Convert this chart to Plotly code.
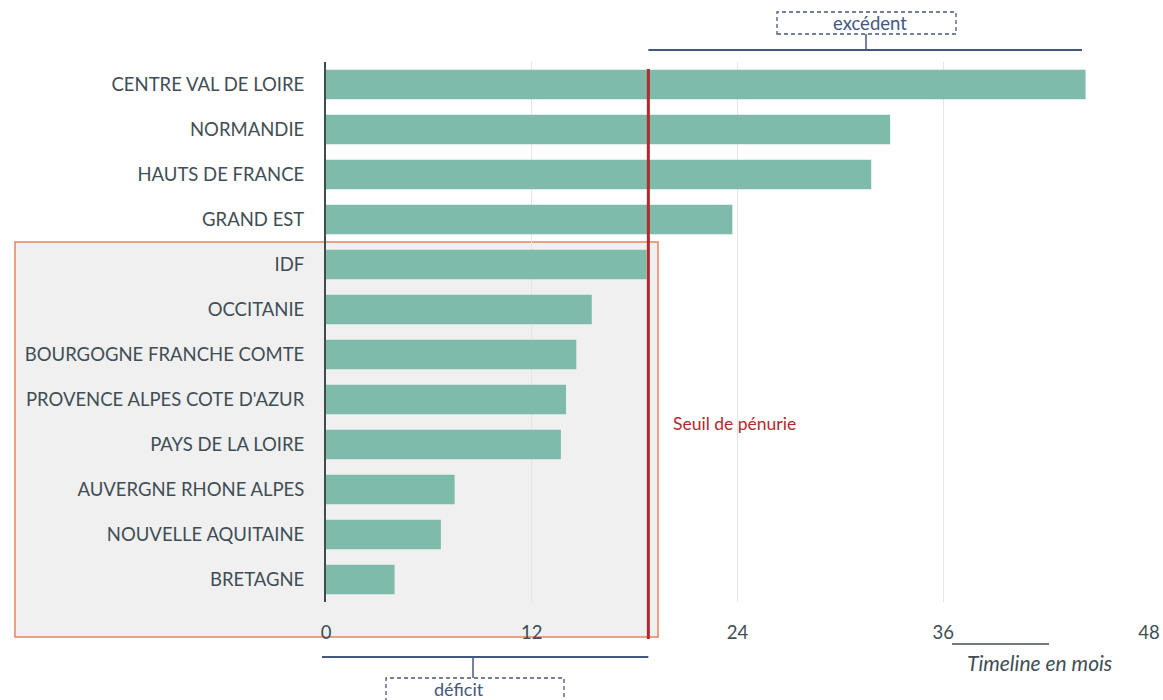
import plotly.graph_objects as go

regions = ["CENTRE VAL DE LOIRE", "NORMANDIE", "HAUTS DE FRANCE", "GRAND EST", "IDF",
           "OCCITANIE", "BOURGOGNE FRANCHE COMTE", "PROVENCE ALPES COTE D'AZUR",
           "PAYS DE LA LOIRE", "AUVERGNE RHONE ALPES", "NOUVELLE AQUITAINE", "BRETAGNE"]
months = [44.3, 32.9, 31.8, 23.7, 18.7, 15.5, 14.6, 14.0, 13.7, 7.5, 6.7, 4.0]
threshold = 18.8
x_ticks = [0, 12, 24, 36, 48]
x_max = 48

W, H = 1163, 700
L, R, T, B = 326, 14, 62, 98
pw, ph = W - L - R, H - T - B

def px(x):
    return (x - L) / pw

def py(y):
    return (H - B - y) / ph

def dx(v):
    return v / x_max

TXT = "#3F4E55"
NAVY = "#44587F"
RED = "#B3282D"
FONT = "Lato"

fig = go.Figure(go.Bar(
    x=months, y=regions, orientation="h",
    marker=dict(color="#7FBBAA", line=dict(width=0)),
    width=0.66, hoverinfo="x+y",
))

shapes = []
# deficit zone box
shapes.append(dict(type="rect", xref="paper", yref="paper",
                   x0=px(15), x1=px(658), y0=py(637), y1=py(242),
                   fillcolor="#F0F0F0", line=dict(color="#E8825F", width=1.5), layer="below"))
# threshold line
shapes.append(dict(type="line", xref="paper", yref="paper",
                   x0=dx(threshold), x1=dx(threshold), y0=py(639), y1=py(69),
                   line=dict(color=RED, width=3), layer="above"))
# excedent bracket
shapes.append(dict(type="line", xref="paper", yref="paper",
                   x0=dx(threshold), x1=px(1082), y0=py(50), y1=py(50),
                   line=dict(color=NAVY, width=2)))
shapes.append(dict(type="line", xref="paper", yref="paper",
                   x0=px(866), x1=px(866), y0=py(50), y1=py(34),
                   line=dict(color=NAVY, width=1.5)))
shapes.append(dict(type="rect", xref="paper", yref="paper",
                   x0=px(777), x1=px(956), y0=py(34), y1=py(12),
                   line=dict(color=NAVY, width=1.3, dash="4px,3px"), fillcolor="white"))
# deficit bracket
shapes.append(dict(type="line", xref="paper", yref="paper",
                   x0=px(322), x1=dx(threshold), y0=py(657), y1=py(657),
                   line=dict(color=NAVY, width=2)))
shapes.append(dict(type="line", xref="paper", yref="paper",
                   x0=px(473), x1=px(473), y0=py(657), y1=py(678),
                   line=dict(color=NAVY, width=1.5)))
shapes.append(dict(type="rect", xref="paper", yref="paper",
                   x0=px(386), x1=px(564), y0=py(708), y1=py(678),
                   line=dict(color=NAVY, width=1.3, dash="4px,3px"), fillcolor="white"))
# timeline line
shapes.append(dict(type="line", xref="paper", yref="paper",
                   x0=px(952), x1=px(1049), y0=py(644), y1=py(644),
                   line=dict(color=TXT, width=1.5)))

annotations = [
    dict(text="Seuil de pénurie", xref="paper", yref="paper", x=px(671), y=py(423),
         xanchor="left", yanchor="middle", showarrow=False,
         font=dict(family=FONT, size=17.5, color=RED)),
    dict(text="excédent", xref="paper", yref="paper", x=px(870), y=py(23),
         xanchor="center", yanchor="middle", showarrow=False,
         font=dict(family=FONT, size=18.5, color=NAVY)),
    dict(text="déficit", xref="paper", yref="paper", x=px(459), y=py(689),
         xanchor="center", yanchor="middle", showarrow=False,
         font=dict(family=FONT, size=18, color=NAVY)),
    dict(text="<i>Timeline en mois</i>", xref="paper", yref="paper", x=px(1039), y=py(662),
         xanchor="center", yanchor="middle", showarrow=False,
         font=dict(family=FONT, size=21, color=TXT)),
]

fig.update_layout(
    width=W, height=H,
    margin=dict(l=L, r=R, t=T, b=B, pad=0, autoexpand=False),
    paper_bgcolor="white", plot_bgcolor="rgba(0,0,0,0)",
    showlegend=False,
    font=dict(family=FONT, size=18.5, color=TXT),
    shapes=shapes, annotations=annotations,
    xaxis=dict(range=[0, x_max], tickvals=x_ticks, ticktext=[str(t) for t in x_ticks],
               showgrid=True, gridcolor="#E2E6E8", gridwidth=1, zeroline=False,
               showline=False, ticks="outside", ticklen=14, tickcolor="rgba(0,0,0,0)",
               automargin=False, tickfont=dict(family=FONT, size=18.5, color=TXT)),
    yaxis=dict(categoryorder="array", categoryarray=regions, range=[11.5, -0.5],
               showgrid=False, zeroline=False, showline=True, linecolor="#3F4B4F", linewidth=2,
               ticks="outside", ticklen=16, tickcolor="rgba(0,0,0,0)", automargin=False,
               tickfont=dict(family=FONT, size=18.5, color=TXT)),
)

fig.write_html("out.html")
